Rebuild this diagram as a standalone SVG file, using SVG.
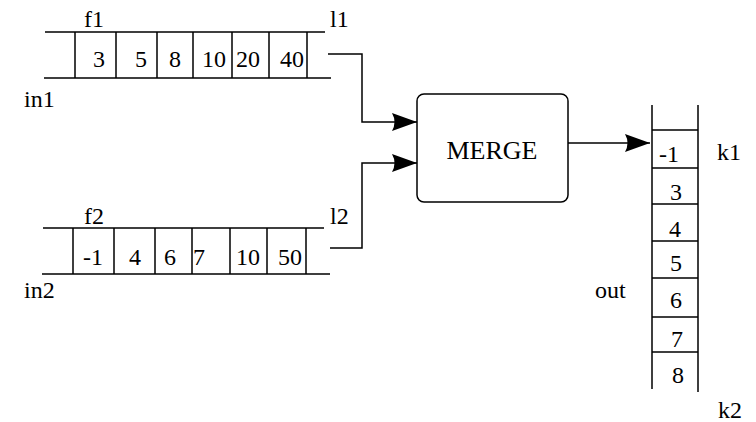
<svg xmlns="http://www.w3.org/2000/svg" width="756" height="422" viewBox="0 0 756 422">
<style>
  .ln { stroke: #000; stroke-width: 1.5; fill: none; }
  text { font-family: "Liberation Serif", "DejaVu Serif", serif; font-size: 24px; fill: #000; }
  .big { font-size: 26px; }
</style>
<defs>
  <marker id="ah" markerUnits="userSpaceOnUse" markerWidth="26" markerHeight="20" refX="25" refY="9" orient="auto">
    <path d="M0,0 L25,9 L0,18 Q5,9 0,0 z" fill="#000"/>
  </marker>
</defs>
<rect width="756" height="422" fill="#fff"/>

<g id="in1">
  <path class="ln" d="M45,32 H325 M44,78 H331 M75,32 V78 M116,32 V78 M157,32 V78 M193,32 V78 M232,32 V78 M269,32 V78 M307,32 V78"/>
  <text x="84" y="27">f1</text>
  <text x="330" y="27">l1</text>
  <text x="24" y="107">in1</text>
  <text x="93" y="67">3</text>
  <text x="135" y="67">5</text>
  <text x="169" y="67">8</text>
  <text x="202" y="67">10</text>
  <text x="236" y="67">20</text>
  <text x="280" y="67">40</text>
</g>

<g id="in2">
  <path class="ln" d="M43,228 H324 M42,274 H330 M73,228 V274 M114,228 V274 M155,228 V274 M192,228 V274 M230,228 V274 M267,228 V274 M306,228 V274"/>
  <text x="84" y="224">f2</text>
  <text x="330" y="224">l2</text>
  <text x="24" y="298">in2</text>
  <text x="83" y="265">-1</text>
  <text x="129" y="265">4</text>
  <text x="164" y="265">6</text>
  <text x="193" y="265">7</text>
  <text x="236" y="265">10</text>
  <text x="278" y="265">50</text>
</g>

<g id="merge">
  <rect class="ln" x="417" y="94" width="151" height="108" rx="7" ry="7"/>
  <text class="big" x="492" y="159" text-anchor="middle">MERGE</text>
</g>

<g id="out">
  <path class="ln" d="M652,105 V389 M698,105 V392 M652,130 H698 M652,168 H698 M652,204 H698 M652,241 H698 M652,278 H698 M652,317 H698 M652,352 H698"/>
  <text x="659" y="162">-1</text>
  <text x="670" y="200">3</text>
  <text x="669" y="237">4</text>
  <text x="670" y="271">5</text>
  <text x="670" y="308">6</text>
  <text x="671" y="347">7</text>
  <text x="672" y="383">8</text>
  <text x="717" y="160">k1</text>
  <text x="718" y="418">k2</text>
  <text x="595" y="298">out</text>
</g>

<g id="connectors">
  <path class="ln" d="M328,54 H362 V122 H417" marker-end="url(#ah)"/>
  <path class="ln" d="M330,248 H362 V163 H417" marker-end="url(#ah)"/>
  <path class="ln" d="M568,143 H650" marker-end="url(#ah)"/>
</g>
</svg>
